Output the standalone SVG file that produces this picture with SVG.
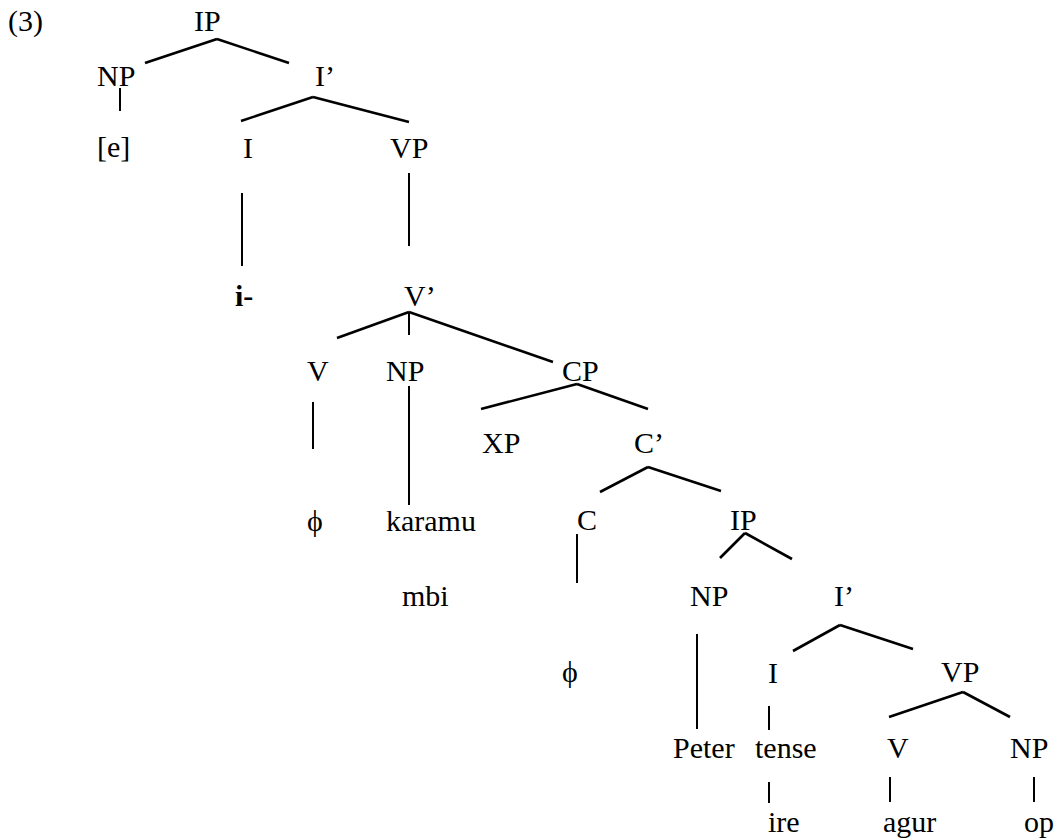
<svg xmlns="http://www.w3.org/2000/svg" width="1057" height="840" viewBox="0 0 1057 840">
  <style>
    text { font-family: "Liberation Serif", "DejaVu Serif", serif; font-size: 30px; fill: #000; }
    .b { font-weight: bold; }
    .br { stroke: #000; stroke-width: 2.6; stroke-linecap: butt; fill: none; }
    .st { stroke: #000; stroke-width: 2; fill: none; }
  </style>
  <rect width="1057" height="840" fill="#fff"/>

  <text id="label" x="8" y="31">(3)</text>

  <!-- tree edges -->
  <g id="connectors">
    <line class="br" x1="217" y1="39" x2="145" y2="63"/>
    <line class="br" x1="217" y1="39" x2="289" y2="63"/>
    <line class="br" x1="313" y1="97" x2="241" y2="121"/>
    <line class="br" x1="313" y1="97" x2="409" y2="122"/>
    <line class="br" x1="409" y1="312" x2="337" y2="338"/>
    <line class="br" x1="409" y1="312" x2="553" y2="362"/>
    <line class="br" x1="577" y1="384" x2="481" y2="409"/>
    <line class="br" x1="577" y1="384" x2="648" y2="409"/>
    <line class="br" x1="648" y1="467" x2="600" y2="492"/>
    <line class="br" x1="648" y1="467" x2="721" y2="491"/>
    <line class="br" x1="745" y1="533" x2="720" y2="558"/>
    <line class="br" x1="745" y1="533" x2="792" y2="559"/>
    <line class="br" x1="840" y1="625" x2="793" y2="651"/>
    <line class="br" x1="840" y1="625" x2="913" y2="649"/>
    <line class="br" x1="963" y1="692" x2="889" y2="717"/>
    <line class="br" x1="963" y1="692" x2="1010" y2="717"/>

    <line class="st" x1="120" y1="88" x2="120" y2="111"/>
    <line class="st" x1="242" y1="193" x2="242" y2="266"/>
    <line class="st" x1="409" y1="173" x2="409" y2="246"/>
    <line class="st" x1="409" y1="312" x2="409" y2="335"/>
    <line class="st" x1="313" y1="402" x2="313" y2="449"/>
    <line class="st" x1="409" y1="386" x2="409" y2="505"/>
    <line class="st" x1="577" y1="534" x2="577" y2="583"/>
    <line class="st" x1="697" y1="634" x2="697" y2="729"/>
    <line class="st" x1="769" y1="706" x2="769" y2="730"/>
    <line class="st" x1="769" y1="782" x2="769" y2="803"/>
    <line class="st" x1="890" y1="777" x2="890" y2="802"/>
    <line class="st" x1="1034" y1="777" x2="1034" y2="802"/>
  </g>

  <!-- matrix clause -->
  <g id="n-ip"><text x="194" y="31">IP</text></g>
  <g id="n-np-subj"><text x="97" y="86">NP</text></g>
  <g id="n-e"><text x="97" y="157">[e]</text></g>
  <g id="n-ibar"><text x="315" y="86">I’</text></g>
  <g id="n-i"><text x="243" y="158">I</text></g>
  <g id="n-i-morph"><text class="b" x="235" y="306">i-</text></g>
  <g id="n-vp"><text x="390" y="158">VP</text></g>
  <g id="n-vbar"><text x="404" y="306">V’</text></g>
  <g id="n-v"><text x="307" y="381">V</text></g>
  <g id="n-v-null"><text x="307" y="531">ϕ</text></g>
  <g id="n-np-obj"><text x="386" y="381">NP</text></g>
  <g id="n-karamu"><text x="386" y="531">karamu</text></g>
  <g id="n-mbi"><text x="402" y="606">mbi</text></g>

  <!-- embedded clause -->
  <g id="n-cp"><text x="562" y="381">CP</text></g>
  <g id="n-xp"><text x="482" y="453">XP</text></g>
  <g id="n-cbar"><text x="634" y="453">C’</text></g>
  <g id="n-c"><text x="577" y="530">C</text></g>
  <g id="n-c-null"><text x="562" y="682">ϕ</text></g>
  <g id="n-ip2"><text x="730" y="530">IP</text></g>
  <g id="n-np2"><text x="690" y="606">NP</text></g>
  <g id="n-peter"><text x="673" y="758">Peter</text></g>
  <g id="n-ibar2"><text x="834" y="606">I’</text></g>
  <g id="n-i2"><text x="768" y="683">I</text></g>
  <g id="n-tense"><text x="755" y="758">tense</text></g>
  <g id="n-ire"><text x="768" y="832">ire</text></g>
  <g id="n-vp2"><text x="941" y="682">VP</text></g>
  <g id="n-v2"><text x="887" y="758">V</text></g>
  <g id="n-agur"><text x="883" y="832">agur</text></g>
  <g id="n-np3"><text x="1010" y="758">NP</text></g>
  <g id="n-op"><text x="1024" y="832">op</text></g>
</svg>
